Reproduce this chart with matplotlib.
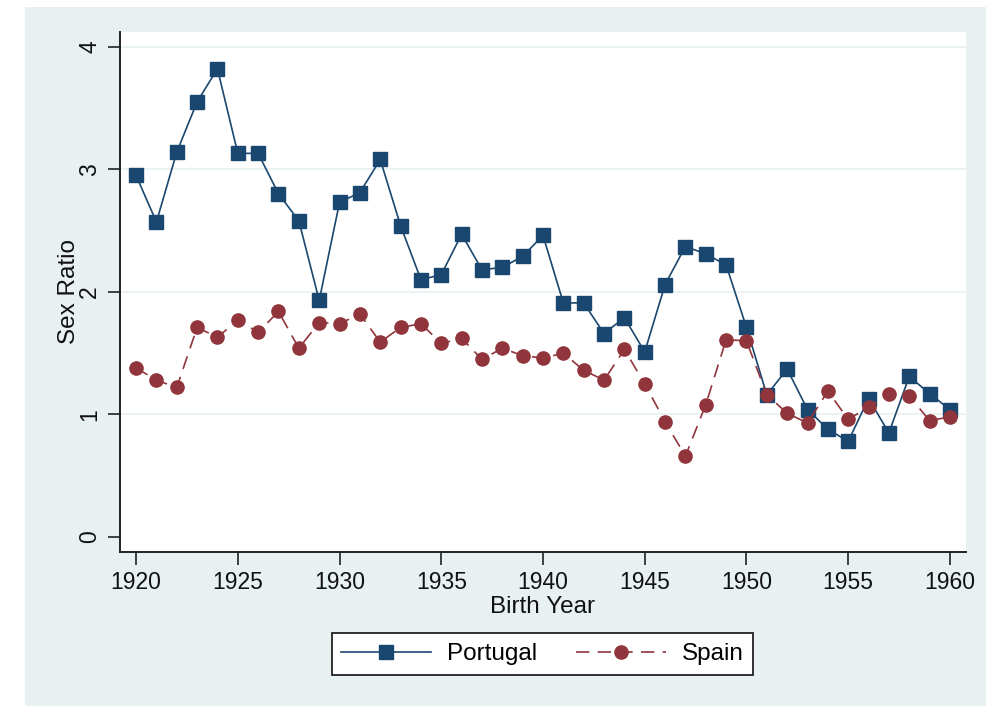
import matplotlib.pyplot as plt
from matplotlib.patches import Rectangle

years = list(range(1920, 1961))
portugal = [2.95, 2.57, 3.14, 3.55, 3.82, 3.13, 3.13, 2.80, 2.58, 1.93,
            2.73, 2.81, 3.08, 2.54, 2.10, 2.14, 2.47, 2.18, 2.20, 2.29,
            2.46, 1.91, 1.91, 1.66, 1.79, 1.51, 2.06, 2.37, 2.31, 2.22,
            1.71, 1.16, 1.37, 1.04, 0.88, 0.78, 1.13, 0.85, 1.31, 1.17,
            1.04]
spain = [1.38, 1.28, 1.22, 1.71, 1.63, 1.77, 1.67, 1.84, 1.54, 1.75,
         1.74, 1.82, 1.59, 1.71, 1.74, 1.58, 1.62, 1.45, 1.54, 1.48,
         1.46, 1.50, 1.36, 1.28, 1.53, 1.25, 0.94, 0.66, 1.08, 1.61,
         1.60, 1.16, 1.01, 0.93, 1.19, 0.96, 1.06, 1.17, 1.15, 0.95,
         0.98]
xticks = [1920, 1925, 1930, 1935, 1940, 1945, 1950, 1955, 1960]
yticks = [0, 1, 2, 3, 4]

plt.rcParams['font.family'] = ['Liberation Sans', 'DejaVu Sans']

W, H = 986, 706
bg = '#e8f0f2'
navy = '#1a476f'
maroon = '#90353b'

fig = plt.figure(figsize=(W / 100, H / 100), dpi=100)
fig.patch.set_facecolor('white')
fig.patches.append(Rectangle((25 / W, 0), 1 - 25 / W, 1 - 7 / H,
                             transform=fig.transFigure, facecolor=bg,
                             edgecolor='none', zorder=-10))

ax = fig.add_axes([120 / W, 1 - 552 / H, (966 - 120) / W, (552 - 32) / H])
ax.set_facecolor('white')

ax.plot(years, portugal, color=navy, lw=1.2, marker='s', ms=10,
        mec=navy, mfc=navy, label='Portugal', zorder=3)
ax.plot(years, spain, color=maroon, lw=1.2, ls=(0, (8, 5)), marker='o',
        ms=9.5, mec=maroon, mfc=maroon, label='Spain', zorder=3)

ax.set_xlim(1919.21, 1960.79)
ax.set_ylim(-0.122, 4.12)
ax.set_xticks(xticks)
ax.set_yticks(yticks)
ax.set_yticklabels([str(v) for v in yticks], rotation=90, va='center')
ax.tick_params(axis='both', direction='out', length=9, width=1.2,
               labelsize=16.5, color='#222222', labelcolor='#111111')
ax.tick_params(axis='y', pad=4.5)
ax.tick_params(axis='x', pad=5)

for v in yticks[1:]:
    ax.axhline(v, color=bg, lw=1.2, zorder=1)

for s in ['top', 'right']:
    ax.spines[s].set_visible(False)
for s in ['left', 'bottom']:
    ax.spines[s].set_linewidth(1.4)
    ax.spines[s].set_color('#222222')

ax.set_xlabel('Birth Year', fontsize=17.5, labelpad=1, color='#111111')
ax.set_ylabel('Sex Ratio', fontsize=17.5, labelpad=-1, color='#111111')

leg = fig.legend(loc='center', bbox_to_anchor=(542.5 / W, 1 - 654 / H),
                 ncol=2, fontsize=17.5, frameon=True, fancybox=False,
                 edgecolor='#111111', framealpha=1, handlelength=3.7,
                 handletextpad=0.65, columnspacing=1.6, borderpad=0.4,
                 numpoints=1)
leg.get_frame().set_linewidth(1.2)

fig.savefig('out.png', dpi=100)
